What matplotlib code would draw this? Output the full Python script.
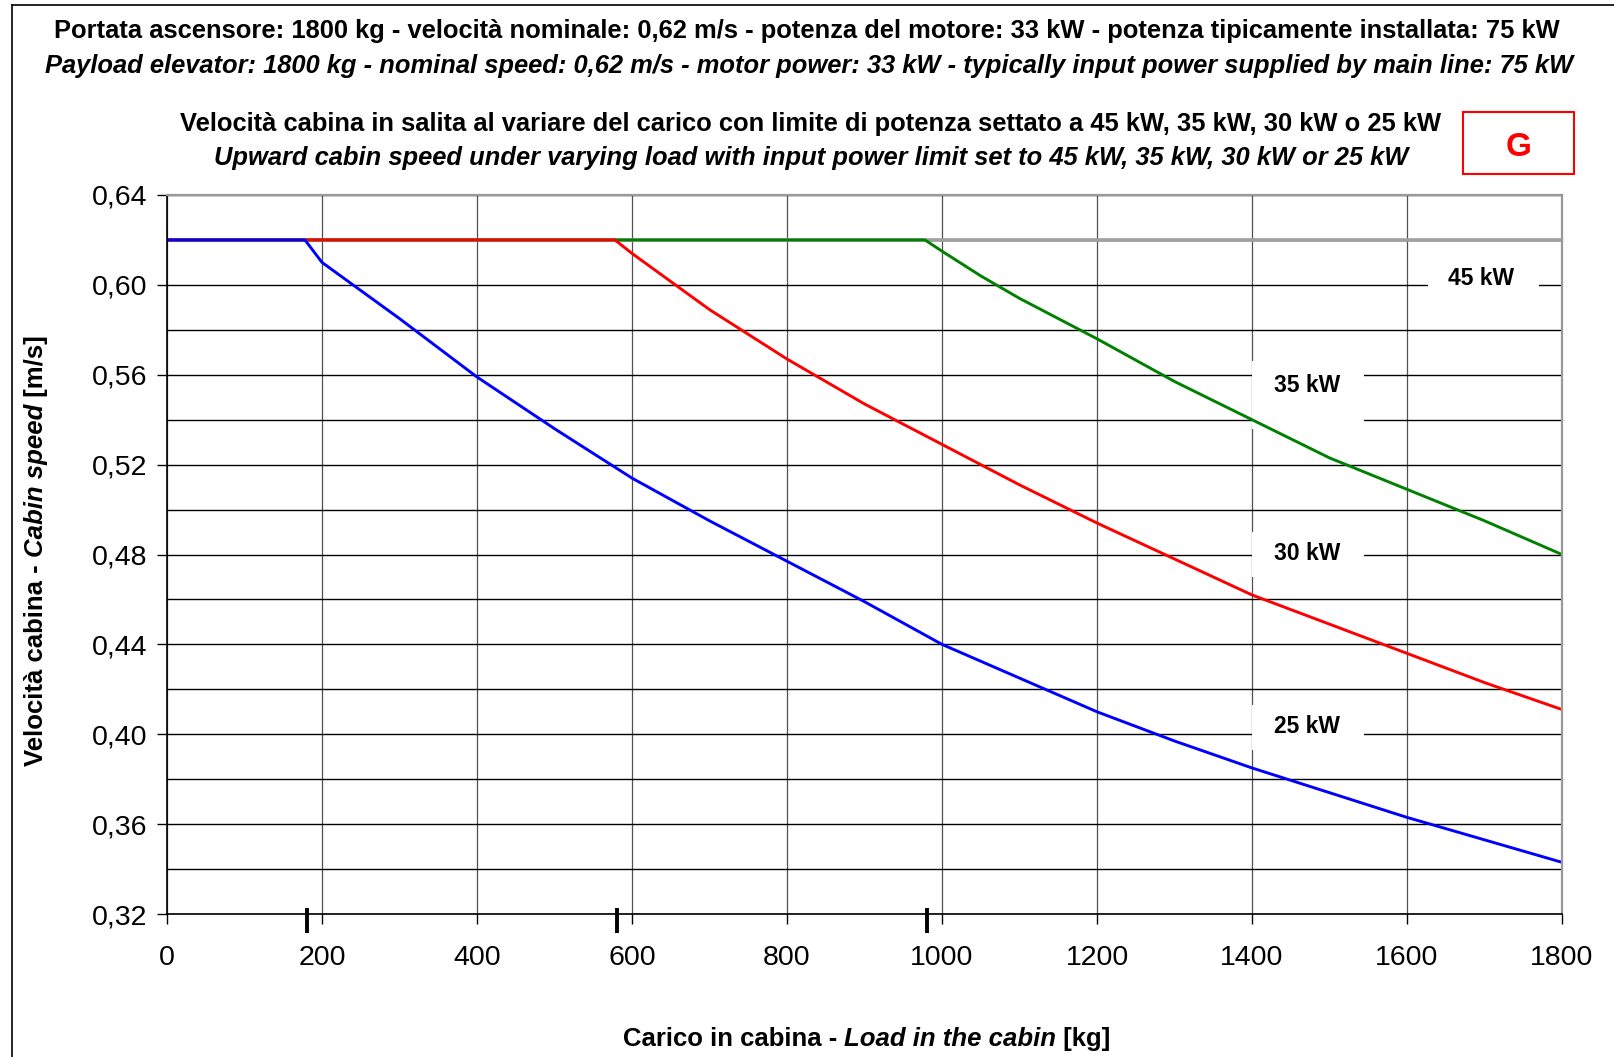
import matplotlib
matplotlib.use("Agg")
import matplotlib.pyplot as plt
from matplotlib.transforms import IdentityTransform
from matplotlib.patches import Rectangle
from matplotlib.lines import Line2D

plt.rcParams['font.family'] = ['Liberation Sans', 'DejaVu Sans']

# speed curves (load in kg, speed in m/s)
load_25 = [0, 178, 200, 240, 300, 400, 500, 600, 700, 800, 900, 1000, 1100,
           1200, 1300, 1400, 1500, 1600, 1700, 1800]
speed_25 = [0.620, 0.620, 0.610, 0.600, 0.585, 0.559, 0.536, 0.514, 0.495,
            0.477, 0.459, 0.440, 0.425, 0.410, 0.397, 0.385, 0.374, 0.363,
            0.353, 0.343]

load_30 = [0, 578, 600, 700, 800, 900, 1000, 1100, 1200, 1300, 1400, 1500,
           1600, 1700, 1800]
speed_30 = [0.620, 0.620, 0.614, 0.589, 0.567, 0.547, 0.529, 0.511, 0.494,
            0.478, 0.462, 0.449, 0.436, 0.423, 0.411]

load_35 = [0, 978, 1000, 1050, 1100, 1200, 1300, 1400, 1500, 1600, 1700, 1800]
speed_35 = [0.620, 0.620, 0.615, 0.604, 0.594, 0.576, 0.557, 0.540, 0.523,
            0.509, 0.495, 0.480]

load_45 = [0, 1800]
speed_45 = [0.620, 0.620]

breakpoints = [180, 580, 980]

x_ticks = [0, 200, 400, 600, 800, 1000, 1200, 1400, 1600, 1800]
y_ticks = [0.32, 0.36, 0.40, 0.44, 0.48, 0.52, 0.56, 0.60, 0.64]
y_tick_labels = ['0,32', '0,36', '0,40', '0,44', '0,48', '0,52', '0,56', '0,60', '0,64']
y_minor = [0.34, 0.38, 0.42, 0.46, 0.50, 0.54, 0.58, 0.62]

# label text, text position, white box (x0, x1, y0, y1)
curve_labels = ['45 kW', '35 kW', '30 kW', '25 kW']
label_pos = [(1696, 0.603), (1471, 0.555), (1471, 0.4806), (1471, 0.4034)]
label_box = [(1627, 1770, 0.592, 0.614), (1400, 1544, 0.536, 0.566),
             (1400, 1544, 0.470, 0.490), (1400, 1544, 0.393, 0.413)]

W, H = 1614, 1057
fig = plt.figure(figsize=(W / 100, H / 100), dpi=100)
ax = fig.add_axes([167 / W, 1 - 914 / H, (1562 - 167) / W, (914 - 195) / H])

ax.set_xlim(0, 1800)
ax.set_ylim(0.32, 0.64)
ax.set_xticks(x_ticks)
ax.set_yticks(y_ticks)
ax.set_yticklabels(y_tick_labels)
ax.set_yticks(y_minor, minor=True)
ax.grid(axis='y', which='both', color='black', lw=1.0)
ax.grid(axis='x', color='#505050', lw=0.9)
ax.tick_params(axis='both', which='major', direction='out', length=7, width=1,
               labelsize=20.5, color='black')
ax.tick_params(axis='y', pad=7)
ax.tick_params(axis='x', pad=15)
ax.tick_params(axis='y', which='minor', length=0)
for s in ['left', 'bottom']:
    ax.spines[s].set_color('black')
    ax.spines[s].set_linewidth(1.2)
for s in ['top', 'right']:
    ax.spines[s].set_color('#999999')
    ax.spines[s].set_linewidth(1.6)

ax.plot(load_45, speed_45, color='#A0A0A0', lw=2.6, zorder=2)
ax.plot(load_35, speed_35, color='#008000', lw=2.1, zorder=2.1)
ax.plot(load_30, speed_30, color='#FF0000', lw=2.1, zorder=2.2)
ax.plot(load_25, speed_25, color='#0000FF', lw=2.1, zorder=2.3)

ax.vlines(breakpoints, -0.0264, 0.0083, transform=ax.get_xaxis_transform(),
          colors='black', lw=2.8, clip_on=False, zorder=5)

for txt, (tx, ty), (x0, x1, y0, y1) in zip(curve_labels, label_pos, label_box):
    ax.add_patch(Rectangle((x0, y0), x1 - x0, y1 - y0, facecolor='white',
                           edgecolor='none', zorder=1.8))
    ax.text(tx, ty, txt, ha='center', va='center', fontsize=16.5,
            fontweight='bold', zorder=3)

# figure frame (cut off on right and bottom)
fig.add_artist(Line2D([12, 12], [0, H - 5], transform=IdentityTransform(),
                      color='black', lw=1.2))
fig.add_artist(Line2D([12, W], [H - 5, H - 5], transform=IdentityTransform(),
                      color='black', lw=1.2))

renderer = fig.canvas.get_renderer()


def piece_width(s, rotation, **kw):
    t1 = fig.text(0, 0, s + '.', rotation=rotation, **kw)
    t2 = fig.text(0, 0, '.', rotation=rotation, **kw)
    b1 = t1.get_window_extent(renderer)
    b2 = t2.get_window_extent(renderer)
    t1.remove()
    t2.remove()
    if rotation == 0:
        return b1.width - b2.width
    return b1.height - b2.height


def rich_text(parts, cx, cy, rotation=0, size=15):
    # parts: list of (text, fontstyle); centred on cx (horizontal) or cy (rotated)
    widths = [piece_width(s, rotation, fontsize=size, fontweight='bold',
                          fontstyle=st) for s, st in parts]
    total = sum(widths)
    pos = (cx - total / 2) if rotation == 0 else (cy - total / 2)
    for (s, st), w in zip(parts, widths):
        xy = (pos, cy) if rotation == 0 else (cx, pos)
        fig.text(xy[0], xy[1], s, transform=IdentityTransform(), fontsize=size,
                 fontweight='bold', fontstyle=st, rotation=rotation,
                 rotation_mode='anchor', ha='left', va='baseline')
        pos += w


def line(s, cx, base_y, style='normal', size=18.4):
    fig.text(cx, H - base_y, s, transform=IdentityTransform(), fontsize=size,
             fontweight='bold', fontstyle=style, ha='center', va='baseline')


line('Portata ascensore: 1800 kg - velocità nominale: 0,62 m/s - potenza del motore: 33 kW - '
     'potenza tipicamente installata: 75 kW', 807, 38)
line('Payload elevator: 1800 kg - nominal speed: 0,62 m/s - motor power: 33 kW - '
     'typically input power supplied by main line: 75 kW', 809, 72.5, 'italic')
line('Velocità cabina in salita al variare del carico con limite di potenza settato a '
     '45 kW, 35 kW, 30 kW o 25 kW', 811, 131)
line('Upward cabin speed under varying load with input power limit set to '
     '45 kW, 35 kW, 30 kW or 25 kW', 811, 165.5, 'italic')

fig.add_artist(Rectangle((1463, H - 173.5), 111, 62, transform=IdentityTransform(),
                         facecolor='white', edgecolor='#FF0000', lw=1.5))
fig.text(1518.5, H - 156.5, 'G', transform=IdentityTransform(), fontsize=24,
         fontweight='bold', color='#FF0000', ha='center', va='baseline')

rich_text([('Carico in cabina - ', 'normal'), ('Load in the cabin', 'italic'),
           (' [kg]', 'normal')], 867, H - 1046, size=18.5)
rich_text([('Velocità cabina - ', 'normal'), ('Cabin speed', 'italic'),
           (' [m/s]', 'normal')], 43, H - 550.5, rotation=90, size=18.5)

fig.savefig('out.png', dpi=100)
